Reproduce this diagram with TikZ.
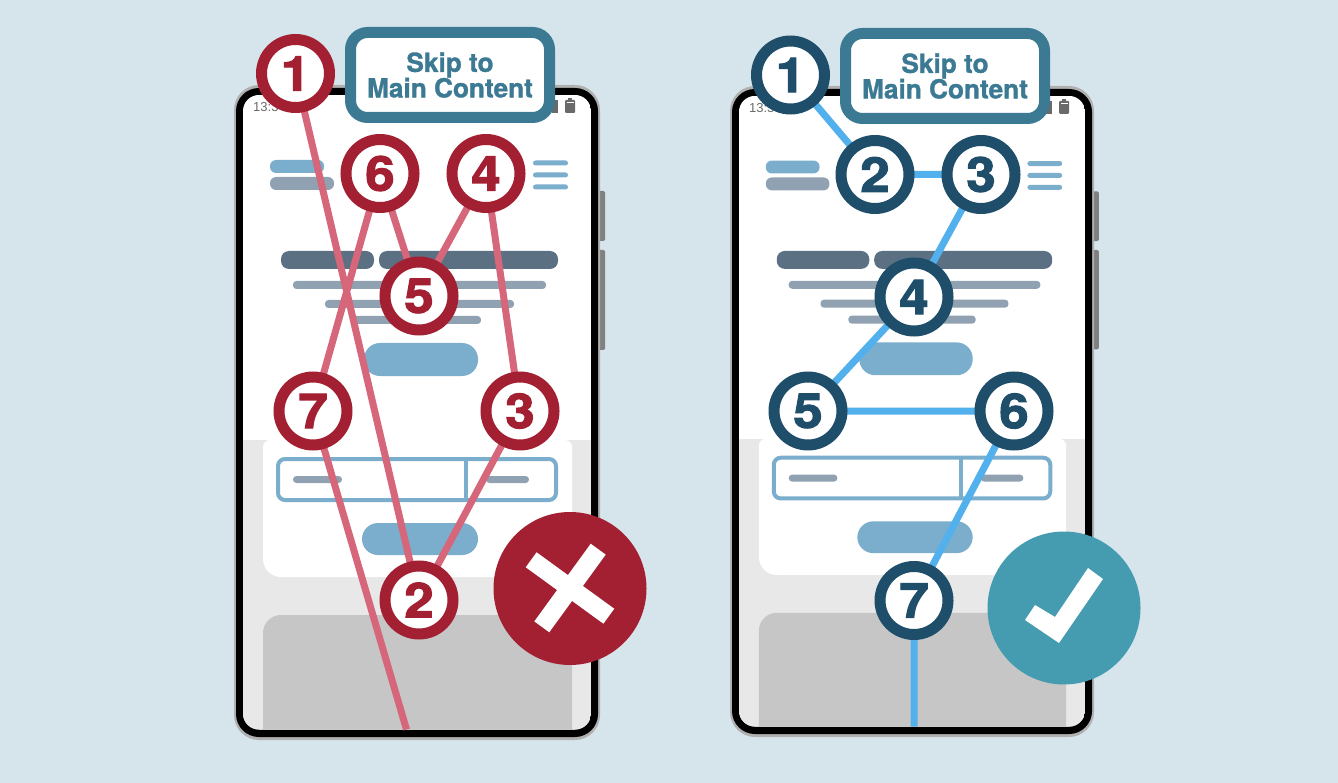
\documentclass[tikz,border=0pt]{standalone}
\usepackage{fontspec}
\setmainfont{Liberation Sans}
\newfontfamily\heavy[BoldFeatures={FakeBold=2.2}]{TeX Gyre Heros}
\newfontfamily\boxfont[BoldFeatures={FakeBold=1.2}]{TeX Gyre Heros}
\definecolor{bg}{HTML}{D6E5EB}
\definecolor{rimgrey}{HTML}{B0B0B0}
\definecolor{lightgrey}{HTML}{E8E8E8}
\definecolor{midgrey}{HTML}{C6C6C6}
\definecolor{sidegrey}{HTML}{808080}
\definecolor{iconcol}{HTML}{6A6A6A}
\definecolor{barblue}{HTML}{7BADCD}
\definecolor{bargrey}{HTML}{90A2B2}
\definecolor{headbar}{HTML}{5C7084}
\definecolor{teal}{HTML}{3C7A94}
\definecolor{badred}{HTML}{A32032}
\definecolor{badline}{HTML}{D6667A}
\definecolor{goodnavy}{HTML}{1F4E6B}
\definecolor{goodline}{HTML}{52B0EC}
\definecolor{goodbadge}{HTML}{459BB0}
\tikzset{
  bar/.style={fill=#1,draw=none,rounded corners=3.4pt},
  numring/.style={circle,draw=#1,fill=white,line width=11pt,minimum size=68pt,inner sep=0pt,font=\heavy\bfseries\fontsize{48}{48}\selectfont,text=#1},
  skipbox/.style={draw=teal,fill=white,line width=11pt,rounded corners=17pt,minimum width=199pt,minimum height=85pt,inner sep=0pt,align=center,text=teal,font=\boxfont\bfseries\fontsize{26.2}{25.5}\selectfont},
  tour/.style={line width=7pt,draw=#1},
}
\newcommand{\phoneshape}[1]{%
 \begin{scope}[#1]
  % side buttons
  \fill[sidegrey,rounded corners=1.5pt] (598,191) rectangle (605,241);
  \fill[sidegrey,rounded corners=1.5pt] (598,250) rectangle (605,350);
  % body
  \fill[rimgrey,rounded corners=25pt] (234,85) rectangle (600,740);
  \fill[black,rounded corners=23pt] (236,88) rectangle (598,737);
  \begin{scope}
   \clip[rounded corners=16pt] (243,95) rectangle (591,729.5);
   \fill[white] (243,95) rectangle (591,730);
   \fill[lightgrey] (243,440) rectangle (591,730);
   \fill[white] (263,500) [rounded corners=18pt] -- (263,577) -- (572,577) [rounded corners=7pt] -- (572,440) -- (263,440) -- cycle;
   \fill[midgrey,rounded corners=18pt] (263,615) rectangle (572,760);
  \end{scope}
  % status
  \node[anchor=west,inner sep=0pt,text=iconcol,font=\fontsize{13}{13}\selectfont] at (253,107) {13:3};
  \fill[iconcol] (552,100) rectangle (558,113);
  \fill[iconcol,rounded corners=1pt] (565,100) rectangle (575,113);
  \fill[iconcol] (568,98.5) rectangle (572,100.5);
  \fill[white] (566.5,102) rectangle (573.5,103.2);
  % header
  \fill[bar=barblue,rounded corners=6pt] (270,160) rectangle (324,173);
  \fill[bar=bargrey,rounded corners=6pt] (270,177) rectangle (334,190);
  \fill[bar=barblue,rounded corners=2.5pt] (533,160.5) rectangle (568,165.5);
  \fill[bar=barblue,rounded corners=2.5pt] (533,172.5) rectangle (568,177.5);
  \fill[bar=barblue,rounded corners=2.5pt] (533,184.5) rectangle (568,189.5);
  % headline
  \fill[bar=headbar,rounded corners=8pt] (281,251) rectangle (374,269);
  \fill[bar=headbar,rounded corners=8pt] (379,251) rectangle (558,269);
  \fill[bar=bargrey] (293,281) rectangle (546,289);
  \fill[bar=bargrey] (325,300) rectangle (514,308);
  \fill[bar=bargrey] (353,316) rectangle (481,324);
  % buttons
  \fill[bar=barblue,rounded corners=16pt] (364,343) rectangle (478,376);
  \fill[bar=barblue,rounded corners=16pt] (362,523) rectangle (478,555);
  % table
  \draw[barblue,line width=4pt,rounded corners=7pt,fill=white] (278,459) rectangle (556,500);
  \draw[barblue,line width=4pt] (466,459) -- (466,500);
  \fill[bar=bargrey] (293,476) rectangle (342,483);
  \fill[bar=bargrey] (486,476) rectangle (529,483);
 \end{scope}}
\begin{document}
\begin{tikzpicture}[x=1pt,y=-1pt]
\useasboundingbox (0,0) rectangle (1338,783);
\fill[bg] (0,0) rectangle (1338,783);
% left
\phoneshape{}
\coordinate (lend) at (406.5,729.5);
\coordinate (l1) at (295.5,73.5);
\coordinate (l2) at (419,600);
\coordinate (l3) at (520,411);
\coordinate (l4) at (486,173.5);
\coordinate (l5) at (419,296);
\coordinate (l6) at (380,173.5);
\coordinate (l7) at (313,411);
\draw[tour=badline] (l1) -- (l2) -- (l3) -- (l4) -- (l5) -- (l6) -- (l7) -- (lend);
\node[skipbox] (lskip) at (450,75) {Skip to\\Main Content};
\foreach \n in {1,...,7}
  \node[numring=badred] (L\n) at (l\n) {\scalebox{1.1}[1]{\n}};
\fill[badred] (570,588.5) circle (76.5);
\node[fill=white,minimum width=96pt,minimum height=18.5pt,inner sep=0pt,rotate=-36] (xa) at (570,588) {};
\node[fill=white,minimum width=96pt,minimum height=18.5pt,inner sep=0pt,rotate=54] (xb) at (570,588) {};
% right
\phoneshape{shift={(497.3,1.52)},xscale=.9945,yscale=.9939}
\coordinate (rend) at (914,726.5);
\coordinate (r1) at (790.5,75);
\coordinate (r2) at (875,174.5);
\coordinate (r3) at (981,174.5);
\coordinate (r4) at (914,297);
\coordinate (r5) at (808,411);
\coordinate (r6) at (1014,411);
\coordinate (r7) at (914,600.5);
\draw[tour=goodline] (r1) -- (r2) -- (r3) -- (r4) -- (r5) -- (r6) -- (r7) -- (rend);
\node[skipbox] (rskip) at (945,76) {Skip to\\Main Content};
\foreach \n in {1,...,7}
  \node[numring=goodnavy] (R\n) at (r\n) {\scalebox{1.1}[1]{\n}};
\fill[goodbadge] (1064,608) circle (76.5);
\fill[white] (1025,620) -- (1035,605) -- (1055,617) -- (1088,568) -- (1103,579) -- (1059,643) -- cycle;
\end{tikzpicture}
\end{document}
